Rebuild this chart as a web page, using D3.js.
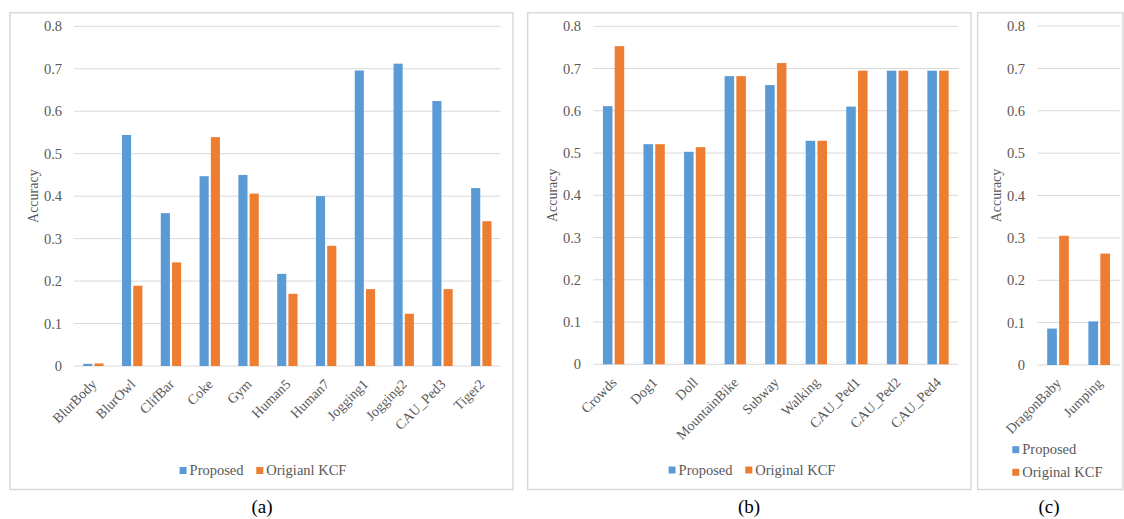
<!DOCTYPE html>
<html><head><meta charset="utf-8">
<script src="https://cdn.jsdelivr.net/npm/d3@7"></script>
<style>
html,body{margin:0;padding:0;background:#fff;}
svg text{font-family:"Liberation Serif","Times New Roman",serif !important;}
</style></head>
<body>
<script>
// ---- data ----
const categoriesA = ["BlurBody","BlurOwl","ClifBar","Coke","Gym","Human5","Human7","Jogging1","Jogging2","CAU_Ped3","Tiger2"];
const proposedA = [0.005,0.544,0.360,0.447,0.450,0.217,0.400,0.696,0.712,0.624,0.419];
const kcfA      = [0.006,0.189,0.244,0.539,0.406,0.170,0.283,0.181,0.123,0.181,0.341];

const categoriesB = ["Crowds","Dog1","Doll","MountainBike","Subway","Walking","CAU_Ped1","CAU_Ped2","CAU_Ped4"];
const proposedB = [0.611,0.521,0.503,0.682,0.661,0.529,0.610,0.695,0.695];
const kcfB      = [0.753,0.521,0.514,0.682,0.713,0.529,0.695,0.695,0.695];

const categoriesC = ["DragonBaby","Jumping"];
const proposedC = [0.086,0.103];
const kcfC      = [0.305,0.263];

const yTicks = [0,0.1,0.2,0.3,0.4,0.5,0.6,0.7,0.8];
const seriesNamesA = ["Proposed","Origianl KCF"];
const seriesNamesBC = ["Proposed","Original KCF"];
const captions = ["(a)","(b)","(c)"];
const yTitle = "Accuracy";

const BLUE = "#5b9bd5", ORANGE = "#ed7d31", GRID = "#d9d9d9", TXT = "#595959";

const svg = d3.select("body").append("svg").attr("width",1124).attr("height",519);

function panel(o){
  const g = svg.append("g");
  g.append("rect").attr("x",o.frame[0]).attr("y",o.frame[1])
    .attr("width",o.frame[2]-o.frame[0]).attr("height",o.frame[3]-o.frame[1])
    .attr("fill","#fff").attr("stroke","#d9d9d9").attr("stroke-width",1.5);
  const y = d3.scaleLinear().domain([0,0.8]).range([o.y0,o.y1]);
  const x = d3.scaleBand().domain(o.cats).range([o.x0,o.x1]);
  // grid
  g.append("g").selectAll("line").data(yTicks).join("line")
    .attr("x1",o.x0).attr("x2",o.x1).attr("y1",d=>y(d)).attr("y2",d=>y(d))
    .attr("stroke",GRID).attr("stroke-width",1);
  // y axis labels via d3 axis
  const ay = g.append("g").attr("transform",`translate(${o.labelX},0)`)
    .call(d3.axisLeft(y).tickValues(yTicks).tickSize(0).tickPadding(0)
      .tickFormat(d=>d===0?"0":d.toFixed(1)));
  ay.select(".domain").remove();
  ay.attr("font-family",null).attr("font-size",null);
  ay.selectAll("text").attr("fill",TXT).style("font-size","14.5px");
  // y title
  g.append("text").attr("transform",`translate(${o.titleX},${(o.y0+o.y1)/2}) rotate(-90)`)
    .attr("text-anchor","middle").attr("dy","0.35em").attr("fill",TXT)
    .style("font-size","14px").text(yTitle);
  // bars
  const bw = x.bandwidth()*0.235, gap = x.bandwidth()*0.055;
  const data = o.cats.map((c,i)=>({c,p:o.p[i],k:o.k[i]}));
  g.append("g").selectAll("rect").data(data).join("rect")
    .attr("x",d=>x(d.c)+x.bandwidth()/2-gap/2-bw).attr("width",bw)
    .attr("y",d=>y(d.p)).attr("height",d=>y(0)-y(d.p)).attr("fill",BLUE);
  g.append("g").selectAll("rect").data(data).join("rect")
    .attr("x",d=>x(d.c)+x.bandwidth()/2+gap/2).attr("width",bw)
    .attr("y",d=>y(d.k)).attr("height",d=>y(0)-y(d.k)).attr("fill",ORANGE);
  // x labels
  g.append("g").selectAll("text").data(o.cats).join("text")
    .attr("transform",d=>`translate(${x(d)+x.bandwidth()/2+4},${o.y0+19}) rotate(-45)`)
    .attr("text-anchor","end").attr("fill",TXT).style("font-size","14px").text(d=>d);
  // legend
  const lg = g.append("g");
  if(!o.vertical){
    const items = lg.selectAll("g").data(o.names).join("g");
    items.append("rect").attr("width",7).attr("height",7).attr("y",-8)
      .attr("fill",(d,i)=>i?ORANGE:BLUE);
    items.append("text").attr("x",10).attr("fill",TXT).style("font-size","14.5px").text(d=>d);
    let xo=0;
    items.each(function(){
      d3.select(this).attr("transform",`translate(${xo},0)`);
      xo += this.getBBox().width + 12;
    });
    const tot = xo-12;
    lg.attr("transform",`translate(${o.legCx - tot/2},${o.legY})`);
  } else {
    const items = lg.selectAll("g").data(o.names).join("g")
      .attr("transform",(d,i)=>`translate(0,${i*22.6})`);
    items.append("rect").attr("width",7).attr("height",7).attr("y",-8)
      .attr("fill",(d,i)=>i?ORANGE:BLUE);
    items.append("text").attr("x",10).attr("fill",TXT).style("font-size","14.5px").text(d=>d);
    lg.attr("transform",`translate(${o.legX},${o.legY})`);
  }
  // caption
  svg.append("text").attr("x",o.capX).attr("y",513).attr("text-anchor","middle")
    .attr("fill","#000").style("font-size","19px").text(o.cap);
}

panel({frame:[10,12.7,513,489.5], cats:categoriesA, p:proposedA, k:kcfA,
  x0:74, x1:500.7, y0:366, y1:26.3, labelX:62, titleX:33,
  names:seriesNamesA, legCx:263, legY:475, cap:captions[0], capX:262});
panel({frame:[527.7,12.7,971,489.5], cats:categoriesB, p:proposedB, k:kcfB,
  x0:593.3, x1:958.3, y0:364.3, y1:26.3, labelX:581, titleX:552.3,
  names:seriesNamesBC, legCx:752, legY:474.5, cap:captions[1], capX:749});
panel({frame:[977.7,12.7,1123,489.5], cats:categoriesC, p:proposedC, k:kcfC,
  x0:1037.4, x1:1119.8, y0:365, y1:26, labelX:1025, titleX:995.7,
  names:seriesNamesBC, vertical:true, legX:1012.3, legY:454.2, cap:captions[2], capX:1049});
</script>
</body></html>
